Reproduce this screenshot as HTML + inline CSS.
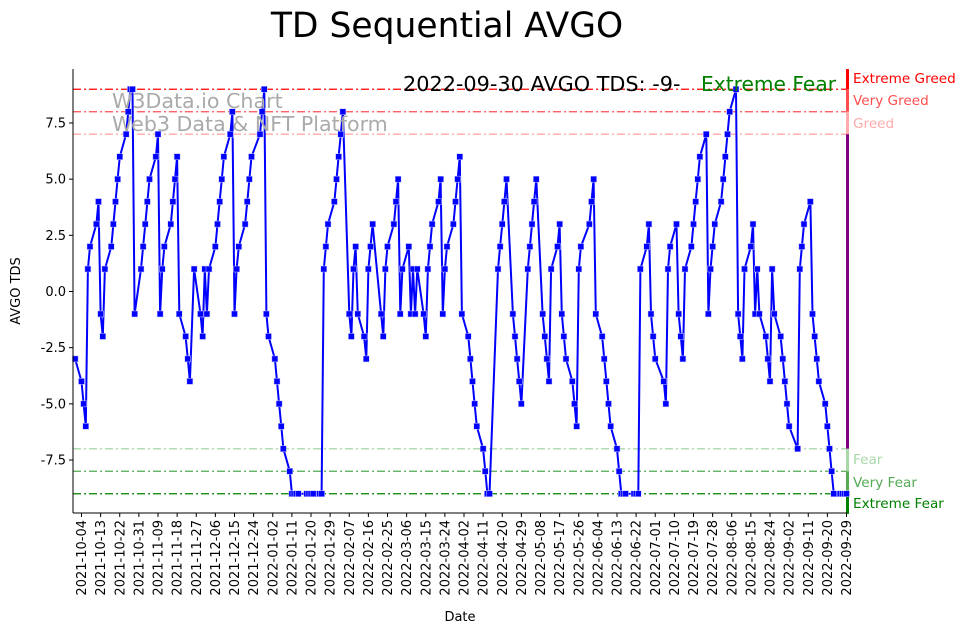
<!DOCTYPE html>
<html><head><meta charset="utf-8"><style>
body{margin:0;background:#fff;}
svg{display:block;font-family:"DejaVu Sans","Liberation Sans",sans-serif;}
</style></head><body>
<svg id="chart" width="967" height="633" viewBox="0 0 967 633">
<text x="447" y="37" text-anchor="middle" font-size="34.5">TD Sequential AVGO</text>
<g id="grid"></g>
<g id="plot"></g>
<g id="axes"></g>
<text x="112" y="108" font-size="20.6" fill="#aaaaaa">W3Data.io Chart</text>
<text x="112" y="131" font-size="20.6" fill="#aaaaaa">Web3 Data &amp; NFT Platform</text>
<text x="403" y="91" font-size="20.8" fill="#000">2022-09-30 AVGO TDS: -9-</text>
<text x="701" y="91" font-size="20.2" fill="#008000">Extreme Fear</text>
<text x="460" y="621" text-anchor="middle" font-size="13">Date</text>
<text transform="translate(20,291) rotate(-90)" text-anchor="middle" font-size="13">AVGO TDS</text>
</svg>
<script>
const tdsValues = [
-3,-4,-5,-6,1,2,3,4,-1,-2,1,2,3,4,5,6,7,8,9,9,-1,1,2,3,4,5,6,7,-1,1,2,3,4,5,6,-1,-2,-3,-4,
1,-1,-2,1,-1,1,2,3,4,5,6,7,8,-1,1,2,3,4,5,6,7,8,9,-1,-2,-3,-4,-5,-6,-7,-8,-9,-9,-9,-9,-9,-9,-9,-9,-9,-9,
1,2,3,4,5,6,7,8,-1,-2,1,2,-1,-2,-3,1,2,3,-1,-2,1,2,3,4,5,-1,1,2,-1,1,-1,1,-1,-2,1,2,3,4,5,-1,1,2,3,4,5,6,-1,
-2,-3,-4,-5,-6,-7,-8,-9,-9,1,2,3,4,5,-1,-2,-3,-4,-5,1,2,3,4,5,-1,-2,-3,-4,1,2,3,-1,-2,-3,-4,-5,-6,1,2,3,4,5,-1,
-2,-3,-4,-5,-6,-7,-8,-9,-9,-9,-9,-9,-9,1,2,3,-1,-2,-3,-4,-5,1,2,3,-1,-2,-3,1,2,3,4,5,6,7,-1,1,2,3,4,5,6,7,8,9,-1,-2,-3,1,2,3,-1,1,-1,-2,-3,-4,1,-1,-2,-3,-4,-5,-6,-7,1,2,3,4,-1,-2,-3,-4,-5,-6,-7,-8,-9,-9,-9,-9,-9
];
const startDate = "2021-10-01";
const holidays = ["2021-11-25","2021-12-24","2022-01-17","2022-02-21","2022-04-15","2022-05-30","2022-06-20","2022-07-04","2022-09-05"];
const yTicks = [-7.5,-5.0,-2.5,0.0,2.5,5.0,7.5];
const levelValues = [9,8,7,-7,-8,-9];
const levelNames = ["Extreme Greed","Very Greed","Greed","Fear","Very Fear","Extreme Fear"];
const levelColors = ["#ff0000","#ff4d4d","#ffaaaa","#a8d8a8","#55aa55","#008000"];

const NS="http://www.w3.org/2000/svg";
const L=73,R=847,T=69,B=513;
const DAY=86400000, t0=Date.UTC(2021,9,4), PXD=2.125, X0=81.5;
const x = d => X0 + (d - t0)/DAY*PXD;
const y = v => 291.5 - v*22.47;
function mk(tag,attrs,parent){const e=document.createElementNS(NS,tag);for(const k in attrs)e.setAttribute(k,attrs[k]);parent.appendChild(e);return e;}
const fmt=d=>new Date(d).toISOString().slice(0,10);

const dates=[];let d=Date.parse(startDate+"T00:00:00Z");
while(dates.length<tdsValues.length){const wd=new Date(d).getUTCDay();if(wd!==0&&wd!==6&&!holidays.includes(fmt(d)))dates.push(d);d+=DAY;}

const grid=document.getElementById('grid'),plot=document.getElementById('plot'),axes=document.getElementById('axes');
levelValues.forEach((v,i)=>{
  const ln=mk('line',{x1:L,x2:R,y1:y(v),y2:y(v),style:'stroke:'+levelColors[i]+';stroke-width:1.3;stroke-dasharray:8 3 2 3'},grid);
  
  
});
const segs=[[9.9,9],[9,8],[8,7],[7,-7],[-7,-8],[-8,-9],[-9,-9.9]];
const segCols=["#ff0000","#ff4d4d","#ffaaaa","#800080","#a8d8a8","#55aa55","#008000"];
segs.forEach((s,i)=>{
  const r=mk('rect',{x:R-1,y:y(s[0]),width:3,height:y(s[1])-y(s[0]),fill:segCols[i]},grid);
  
  
});
const labY=[78,100,123,459,482,503];
levelNames.forEach((n,i)=>{
  const t=mk('text',{x:853,y:labY[i]+5,'font-size':13.6,fill:levelColors[i]},grid);t.textContent=n;
  
  
});
const pts=tdsValues.map((v,i)=>x(dates[i]).toFixed(1)+','+y(v).toFixed(1)).join(' ');
const pl=mk('polyline',{points:pts,fill:'none',stroke:'#0000ff','stroke-width':2},plot);


tdsValues.forEach((v,i)=>{
  const m=mk('rect',{x:x(dates[i])-3,y:y(v)-3,width:6,height:6,fill:'#0000ff',stroke:'#c8c8ff','stroke-width':0.5},plot);
  
  
});
const la=mk('line',{x1:L,x2:L,y1:T,y2:B,stroke:'#000','stroke-width':1},axes);


const ba=mk('line',{x1:L,x2:R,y1:B,y2:B,stroke:'#000','stroke-width':1},axes);


yTicks.forEach(v=>{
  mk('line',{x1:L-4,x2:L,y1:y(v),y2:y(v),stroke:'#000'},axes);
  const t=mk('text',{x:L-7,y:y(v)+4.5,'font-size':13,'text-anchor':'end'},axes);t.textContent=v.toFixed(1);
  
  
});
for(let k=0;k<=40;k++){
  const dd=t0+k*9*DAY,xx=x(dd);
  mk('line',{x1:xx,x2:xx,y1:B,y2:B+4,stroke:'#000'},axes);
  const t=mk('text',{transform:`translate(${xx+4.5},${B+7}) rotate(-90)`,'font-size':13,'text-anchor':'end'},axes);
  t.textContent=fmt(dd);
  
  
}
</script>
</body></html>
